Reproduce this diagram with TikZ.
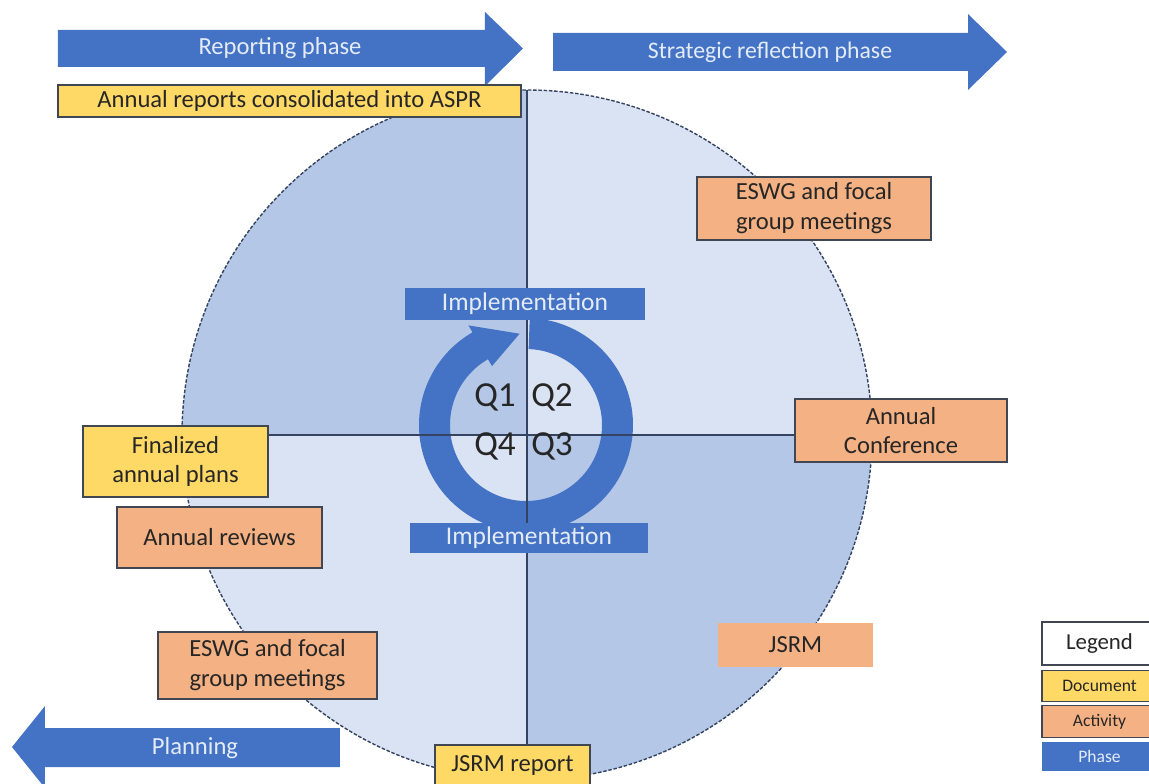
\documentclass[tikz,border=0pt]{standalone}
\usepackage{fontspec}
\setmainfont{Carlito}
\usetikzlibrary{positioning}

\definecolor{phaseblue}{HTML}{4472C4}
\definecolor{docyellow}{HTML}{FFD966}
\definecolor{actorange}{HTML}{F4B183}
\definecolor{qdark}{HTML}{B4C7E7}
\definecolor{qlight}{HTML}{DAE3F3}
\definecolor{boxline}{HTML}{404652}
\definecolor{boxtext}{HTML}{262626}
\definecolor{phasefont}{HTML}{E4ECF8}
\definecolor{lineblue}{HTML}{34435F}

\begin{document}
\begin{tikzpicture}[
  doc/.style={draw=boxline, fill=docyellow, line width=0.7pt, inner sep=0pt, align=center, text=boxtext, font=\fontsize{14}{17}\selectfont},
  act/.style={doc, fill=actorange},
  phasetext/.style={text=phasefont, font=\fontsize{14}{16}\selectfont},
  bar/.style={fill=phaseblue, inner sep=0pt, text=phasefont, font=\fontsize{14.5}{16}\selectfont},
  quarter/.style={text=black!85, font=\fontsize{20}{22}\selectfont},
  divider/.style={draw=lineblue, line width=1.1pt},
  legendbox/.style={draw=boxline, line width=0.7pt, inner sep=0pt, minimum width=2.3cm, text=boxtext}
]
\useasboundingbox (-10.54,-6.98) rectangle (12.44,8.70);

% Quarters of the year
\fill[qdark] (0,0) -- (-6.9,0) arc[start angle=180, end angle=90, radius=6.9] -- cycle;
\fill[qlight] (0,0) -- (0,6.9) arc[start angle=90, end angle=0, radius=6.9] -- cycle;
\fill[qdark] (0,0) -- (6.9,0) arc[start angle=0, end angle=-90, radius=6.9] -- cycle;
\fill[qlight] (0,0) -- (0,-6.9) arc[start angle=-90, end angle=-180, radius=6.9] -- cycle;
\draw[lineblue, line width=0.8pt, dash pattern=on 2pt off 1pt] (0,0) circle[radius=6.9];

% Implementation cycle
\begin{scope}[shift={(-0.02,0.2)}]
\fill[phaseblue] (88:2.14) arc[start angle=88, end angle=-240, radius=2.14]
  -- (120:2.30) -- (94:1.83) -- (120:1.36) -- (120:1.52)
  arc[start angle=120, end angle=448, radius=1.52] -- cycle;
\end{scope}

\draw[divider] (-6.9,0) -- (6.9,0);
\draw[divider] (0,6.9) -- (0,-6.9);

\node[bar, minimum width=4.8cm, minimum height=0.64cm] (impltop) at (-0.04,2.62) {Implementation};
\node[bar, minimum width=4.76cm, minimum height=0.6cm] (implbot) at (0.04,-2.06) {Implementation};

\node[quarter] (q1) at (-0.64,0.76) {Q1};
\node[quarter] (q2) at (0.50,0.76) {Q2};
\node[quarter] (q4) at (-0.64,-0.22) {Q4};
\node[quarter] (q3) at (0.50,-0.22) {Q3};

% Phases
\fill[phaseblue] (-9.38,8.10) -- (-0.84,8.10) -- (-0.84,8.46) -- (-0.08,7.73)
  -- (-0.84,6.98) -- (-0.84,7.36) -- (-9.38,7.36) -- cycle;
\node[phasetext] (reporting) at (-4.94,7.74) {Reporting phase};

\fill[phaseblue] (0.52,8.04) -- (8.82,8.04) -- (8.82,8.42) -- (9.60,7.66)
  -- (8.82,6.90) -- (8.82,7.28) -- (0.52,7.28) -- cycle;
\node[phasetext, font=\fontsize{13.5}{16}\selectfont] (strategic) at (4.86,7.66) {Strategic reflection phase};

\fill[phaseblue] (-3.74,-5.86) -- (-9.64,-5.86) -- (-9.64,-5.42) -- (-10.30,-6.24)
  -- (-9.64,-7.06) -- (-9.64,-6.64) -- (-3.74,-6.64) -- cycle;
\node[phasetext] (planning) at (-6.64,-6.26) {Planning};

% Documents and activities
\node[doc, minimum width=9.26cm, minimum height=0.64cm] (aspr) at (-4.75,6.68) {Annual reports consolidated into ASPR};
\node[act, minimum width=4.68cm, minimum height=1.26cm] (eswgtop) at (5.74,4.53) {ESWG and focal\\group meetings};
\node[act, minimum width=4.24cm, minimum height=1.26cm] (conf) at (7.48,0.09) {Annual\\Conference};
\node[act, draw=none, minimum width=3.1cm, minimum height=0.88cm] (jsrm) at (5.37,-4.20) {JSRM};
\node[doc, minimum width=3.1cm, minimum height=0.82cm] (jsrmrep) at (-0.29,-6.61) {JSRM report};
\node[doc, minimum width=3.7cm, minimum height=1.42cm] (plans) at (-7.03,-0.53) {Finalized\\annual plans};
\node[act, minimum width=4.1cm, minimum height=1.22cm] (reviews) at (-6.15,-2.05) {Annual reviews};
\node[act, minimum width=4.38cm, minimum height=1.34cm] (eswgbot) at (-5.19,-4.61) {ESWG and focal\\group meetings};

% Legend
\node[legendbox, fill=white, minimum height=0.86cm, font=\fontsize{13}{15}\selectfont] (legend) at (11.45,-4.17) {Legend};
\node[legendbox, fill=docyellow, minimum height=0.62cm, font=\fontsize{10}{12}\selectfont, below=0.08cm of legend] (legdoc) {Document};
\node[legendbox, fill=actorange, minimum height=0.64cm, font=\fontsize{10}{12}\selectfont, below=0.06cm of legdoc] (legact) {Activity};
\node[legendbox, draw=none, fill=phaseblue, text=phasefont, minimum height=0.58cm, font=\fontsize{10}{12}\selectfont, below=0.06cm of legact] (legphase) {Phase};

\end{tikzpicture}
\end{document}
